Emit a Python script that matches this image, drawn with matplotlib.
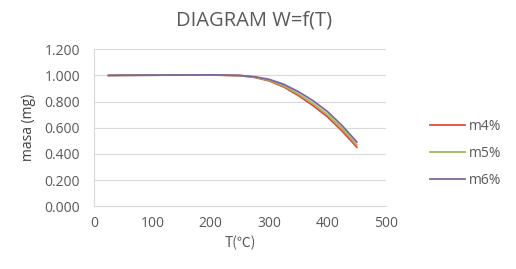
import matplotlib
matplotlib.use('Agg')
import matplotlib.pyplot as plt

# Данные
T = [25, 50, 100, 150, 200, 250, 275, 300, 325, 350, 375, 400, 425, 450]
m4 = [1.000, 1.001, 1.002, 1.003, 1.004, 0.998, 0.985, 0.958, 0.912, 0.846, 0.770, 0.683, 0.575, 0.452]
m5 = [1.000, 1.001, 1.002, 1.003, 1.004, 0.999, 0.987, 0.963, 0.920, 0.858, 0.785, 0.700, 0.594, 0.470]
m6 = [1.000, 1.001, 1.002, 1.003, 1.004, 1.000, 0.990, 0.970, 0.932, 0.876, 0.807, 0.723, 0.616, 0.492]
labels = ['m4%', 'm5%', 'm6%']
colors = ['#e8453c', '#9bbb59', '#8064a2']

grey = '#595959'
plt.rcParams['font.family'] = ['Open Sans', 'DejaVu Sans', 'Noto Sans CJK SC']

fig = plt.figure(figsize=(5.16, 2.69), dpi=100)
ax = fig.add_axes([0.182, 0.233, 0.566, 0.584])

for ys, lab, c in zip([m4, m5, m6], labels, colors):
    ax.plot(T, ys, color=c, linewidth=1.3, label=lab)

ax.set_xlim(0, 500)
ax.set_ylim(0, 1.2)
ax.set_xticks(range(0, 501, 100))
ax.set_yticks([i * 0.2 for i in range(7)])
ax.set_yticklabels(['%.3f' % (i * 0.2) for i in range(7)])
ax.grid(axis='y', color='#d9d9d9', linewidth=0.8)
ax.set_axisbelow(True)
for s in ['top', 'right']:
    ax.spines[s].set_visible(False)
for s in ['left', 'bottom']:
    ax.spines[s].set_color('#d9d9d9')
ax.tick_params(length=0, labelsize=10, colors=grey)
ax.tick_params(axis='y', pad=10)
ax.tick_params(axis='x', pad=7)

ax.set_xlabel('T(℃)', fontsize=10, color=grey, family=['Noto Sans CJK SC', 'DejaVu Sans'], labelpad=3)
ax.set_ylabel('masa (mg)', fontsize=10, color='#404040', labelpad=6)
fig.text(0.493, 0.922, 'DIAGRAM W=f(T)', ha='center', va='center', fontsize=14.5, color=grey)

fig.legend(loc='center left', bbox_to_anchor=(0.81, 0.43), frameon=False,
           fontsize=10, handlelength=2.5, labelspacing=0.85, handletextpad=0.3,
           labelcolor=grey)

fig.savefig('out.png', dpi=100)
